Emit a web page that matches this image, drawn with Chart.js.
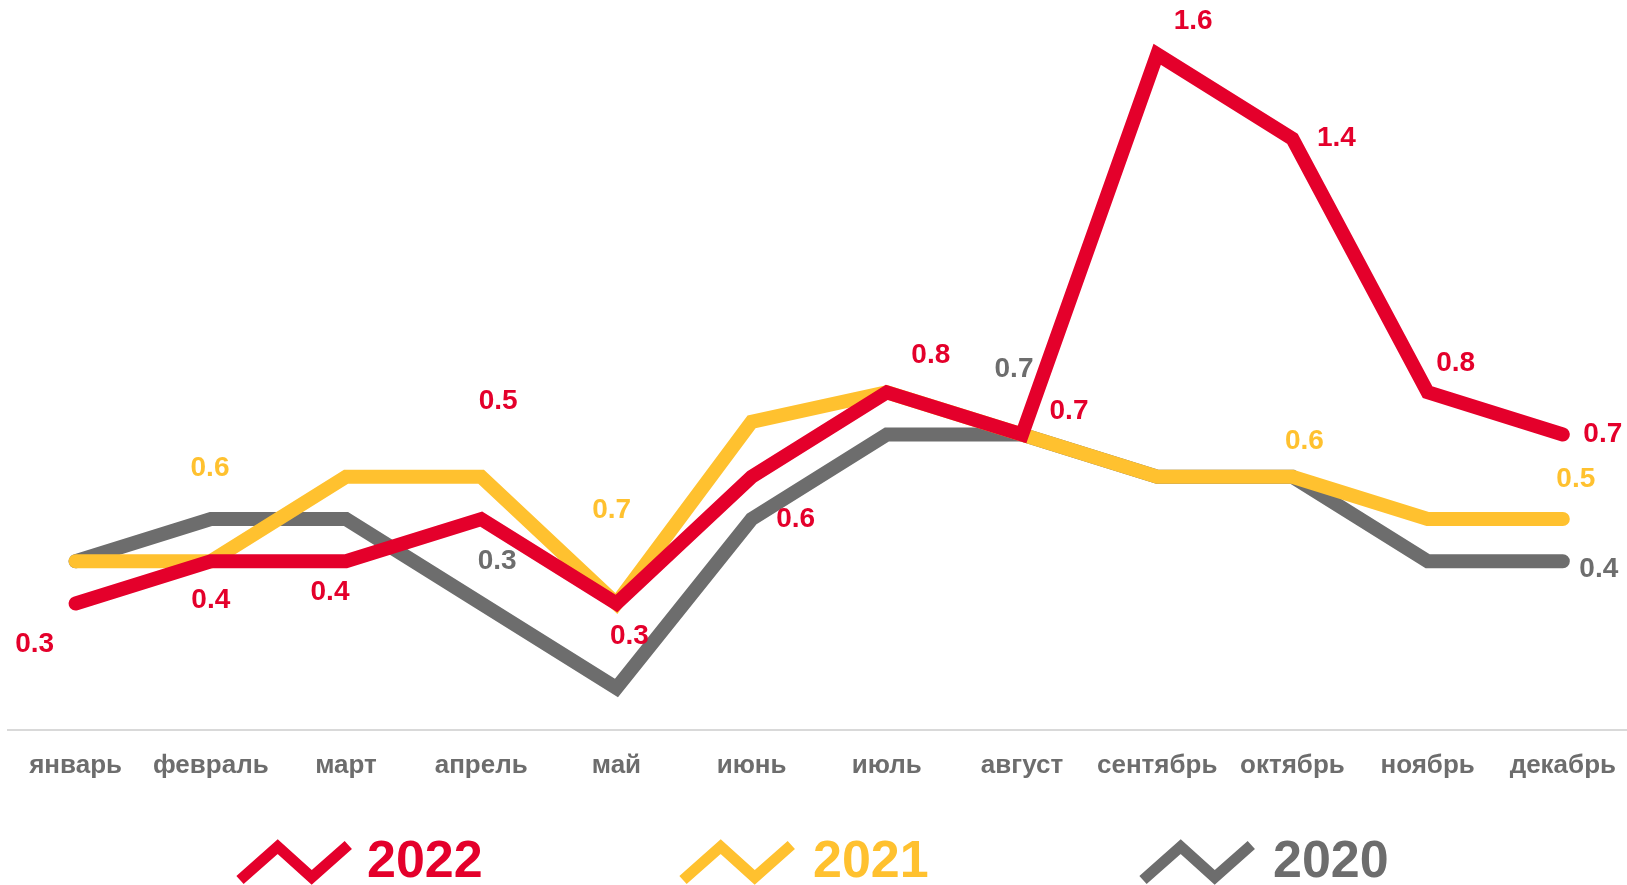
<!DOCTYPE html>
<html>
<head>
<meta charset="utf-8">
<script src="https://cdn.jsdelivr.net/npm/chart.js@4/dist/chart.umd.min.js"></script>
<style>
  html, body { margin: 0; padding: 0; background: #ffffff; overflow: hidden; }
  #wrap { position: relative; width: 1636px; height: 885px; }
  #chart { position: absolute; left: 0; top: 0; }
  .leg { position: absolute; top: 833px; height: 52px; font-family: "Liberation Sans", Arial, sans-serif; font-weight: bold; font-size: 52px; line-height: 52px; white-space: nowrap; }
  .icon { position: absolute; top: 836px; }
</style>
</head>
<body>
<div id="wrap">
  <canvas id="chart"></canvas>
  <div id="legend"></div>
</div>
<script>
// ---- data ----
const months = ["январь", "февраль", "март", "апрель", "май", "июнь", "июль", "август", "сентябрь", "октябрь", "ноябрь", "декабрь"];
const seriesNames = ["2022", "2021", "2020"];
const values2022 = [0.3, 0.4, 0.4, 0.5, 0.3, 0.6, 0.8, 0.7, 1.6, 1.4, 0.8, 0.7];
const values2021 = [0.4, 0.4, 0.6, 0.6, 0.3, 0.73, 0.8, 0.7, 0.6, 0.6, 0.5, 0.5];
const values2020 = [0.4, 0.5, 0.5, 0.3, 0.1, 0.5, 0.7, 0.7, 0.6, 0.6, 0.4, 0.4];
// which points carry a value label
const labelled2022 = [0, 1, 2, 3, 4, 5, 6, 7, 8, 9, 10, 11];
const labelled2021 = [2, 5, 9, 11];
const labelled2020 = [3, 7, 11];

// ---- styles ----
const colors = ["#E4002B", "#FFC12F", "#6D6D6D"];
const FONT = '"Liberation Sans", Arial, sans-serif';
// label offsets (px) from the point, per series, same order as labelled arrays
const offsets = [
  [[-41,41],[0,39],[-16,31],[17,-118],[13,33],[44,42],[44,-37],[47,-23],[36,-33],[44,0],[28,-29],[40,0]],
  [[-136,-9],[-140,88],[12,-36],[13,-40]],
  [[16,-42],[-8,-65],[36,8]]
];
const labelled = [labelled2022, labelled2021, labelled2020];

const labelPlugin = {
  id: 'valueLabels',
  afterDatasetsDraw(chart) {
    const ctx = chart.ctx;
    ctx.save();
    ctx.font = 'bold 28px ' + FONT;
    ctx.textAlign = 'center';
    ctx.textBaseline = 'middle';
    chart.data.datasets.forEach((ds, si) => {
      const meta = chart.getDatasetMeta(si);
      ctx.fillStyle = colors[si];
      labelled[si].forEach((idx, k) => {
        const pt = meta.data[idx];
        const off = offsets[si][k];
        ctx.fillText(ds.data[idx].toFixed(1), pt.x + off[0], pt.y + off[1]);
      });
    });
    ctx.restore();
  }
};

const mkDs = (label, data, color) => ({
  label, data,
  borderColor: color,
  backgroundColor: color,
  borderWidth: 14,
  borderCapStyle: 'round',
  borderJoinStyle: 'miter',
  pointRadius: 0,
  pointHoverRadius: 0,
  tension: 0,
  fill: false,
  clip: false
});

new Chart(document.getElementById('chart'), {
  type: 'line',
  data: {
    labels: months,
    datasets: [
      mkDs(seriesNames[0], values2022, colors[0]),
      mkDs(seriesNames[1], values2021, colors[1]),
      mkDs(seriesNames[2], values2020, colors[2])
    ]
  },
  options: {
    responsive: true,
    maintainAspectRatio: false,
    animation: false,
    layout: { padding: { left: 8, right: 0, top: 0, bottom: 83.5 } },
    plugins: { legend: { display: false }, tooltip: { enabled: false } },
    scales: {
      x: {
        offset: true,
        grid: { display: true, color: 'rgba(0,0,0,0)', drawTicks: false, offset: true },
        border: { display: true, color: '#D9D9D9', width: 2 },
        ticks: {
          autoSkip: false, maxRotation: 0, padding: 20,
          color: '#6D6D6D',
          font: { family: FONT, size: 26, weight: 'bold' }
        }
      },
      y: {
        display: false,
        min: 0,
        max: 1.7284
      }
    }
  },
  plugins: [labelPlugin]
});

// ---- HTML legend ----
const legendPos = [[236, 367], [679, 813], [1139, 1273]];
const legend = document.getElementById('legend');
seriesNames.forEach((name, i) => {
  const [ix, tx] = legendPos[i];
  const svg = document.createElementNS('http://www.w3.org/2000/svg', 'svg');
  svg.setAttribute('width', '120');
  svg.setAttribute('height', '50');
  svg.setAttribute('class', 'icon');
  svg.style.left = ix + 'px';
  const pl = document.createElementNS('http://www.w3.org/2000/svg', 'polyline');
  pl.setAttribute('points', '4,44 41.7,10.7 75.7,41.3 112.3,9');
  pl.setAttribute('fill', 'none');
  pl.setAttribute('stroke', colors[i]);
  pl.setAttribute('stroke-width', '11');
  pl.setAttribute('stroke-linejoin', 'miter');
  svg.appendChild(pl);
  legend.appendChild(svg);
  const t = document.createElement('div');
  t.className = 'leg';
  t.style.left = tx + 'px';
  t.style.color = colors[i];
  t.textContent = name;
  legend.appendChild(t);
});
</script>
</body>
</html>
